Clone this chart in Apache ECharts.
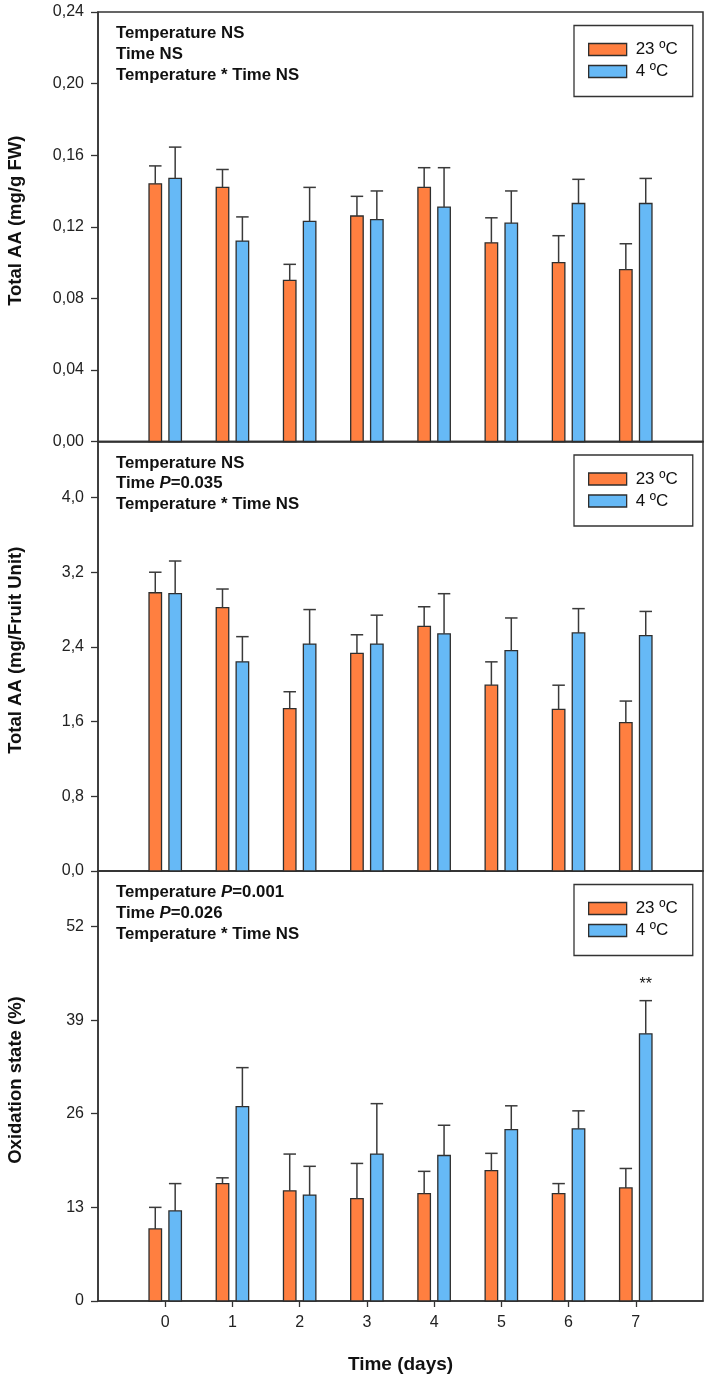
<!DOCTYPE html>
<html><head><meta charset="utf-8">
<script src="https://cdn.jsdelivr.net/npm/echarts@6/dist/echarts.min.js"></script>
<style>html,body{margin:0;padding:0;background:#fff}#c{width:708px;height:1382px}</style>
</head><body><div id="c"></div>
<script>
// ---- data ----
const days = [0, 1, 2, 3, 4, 5, 6, 7];
const seriesNames = ['23 ºC', '4 ºC'];

// Panel 1: Total AA (mg/g FW)
const aaFw23   = [0.144, 0.142, 0.090, 0.126, 0.142, 0.111, 0.100, 0.096];
const aaFw23Se = [0.010, 0.010, 0.009, 0.011, 0.011, 0.014, 0.015, 0.0145];
const aaFw4    = [0.147, 0.112, 0.123, 0.124, 0.131, 0.122, 0.133, 0.133];
const aaFw4Se  = [0.0175, 0.0135, 0.019, 0.016, 0.022, 0.018, 0.0135, 0.014];

// Panel 2: Total AA (mg/Fruit Unit)
const aaFu23   = [2.98, 2.82, 1.74, 2.33, 2.62, 1.99, 1.73, 1.59];
const aaFu23Se = [0.22, 0.20, 0.18, 0.20, 0.21, 0.25, 0.26, 0.23];
const aaFu4    = [2.97, 2.24, 2.43, 2.43, 2.54, 2.36, 2.55, 2.52];
const aaFu4Se  = [0.35, 0.27, 0.37, 0.31, 0.43, 0.35, 0.26, 0.26];

// Panel 3: Oxidation state (%)
const ox23   = [10.0, 16.3, 15.3, 14.2, 14.9, 18.1, 14.9, 15.7];
const ox23Se = [3.0, 0.8, 5.1, 4.9, 3.1, 2.4, 1.4, 2.7];
const ox4    = [12.5, 27.0, 14.7, 20.4, 20.2, 23.8, 23.9, 37.1];
const ox4Se  = [3.8, 5.4, 4.0, 7.0, 4.2, 3.3, 2.5, 4.6];
const ox4Sig = ['', '', '', '', '', '', '', '**'];

// axes
const yTitles = ['Total AA (mg/g FW)', 'Total AA (mg/Fruit Unit)', 'Oxidation state (%)'];
const yMax = [0.24, 4.6, 59.7];
const yInterval = [0.04, 0.8, 13];
const yDecimals = [2, 1, 0];
const xTitle = 'Time (days)';

// statistics text per panel: [prefix, italic, suffix]
const stats = [
  [['Temperature NS', '', ''], ['Time NS', '', ''], ['Temperature * Time NS', '', '']],
  [['Temperature NS', '', ''], ['Time ', 'P', '=0.035'], ['Temperature * Time NS', '', '']],
  [['Temperature ', 'P', '=0.001'], ['Time ', 'P', '=0.026'], ['Temperature * Time NS', '', '']]
];

// ---- styling ----
const FONT = "'Liberation Sans', Arial, Helvetica, sans-serif";
const COLORS = ['#FF7F40', '#66B9F6'];
const EDGE = '#2e2e2e';
const gridTops = [12, 441.5, 871];
const gridH = [429.5, 429.5, 430];
const GL = 98, GR = 5;
const OFF = 0.148, BW = 0.186;

function fmt(d) { return v => v.toFixed(d).replace('.', ','); }

function makeRender(side, color, marks) {
  return function (params, api) {
    const x = api.value(0), v = api.value(1), se = api.value(2);
    const unit = api.size([1, 0])[0];
    const p0 = api.coord([x, 0]);
    const cx = p0[0] + side * OFF * unit;
    const base = p0[1];
    const top = api.coord([x, v])[1];
    const eTop = api.coord([x, v + se])[1];
    const w = BW * unit;
    const ch = [
      { type: 'rect', shape: { x: cx - w / 2, y: top, width: w, height: base - top },
        style: { fill: color, stroke: EDGE, lineWidth: 1.3 } },
      { type: 'line', shape: { x1: cx, y1: top, x2: cx, y2: eTop }, style: { stroke: '#3a3a3a', lineWidth: 1.5 } },
      { type: 'line', shape: { x1: cx - w / 2, y1: eTop, x2: cx + w / 2, y2: eTop }, style: { stroke: '#3a3a3a', lineWidth: 1.5 } }
    ];
    if (marks && marks[params.dataIndex]) {
      ch.push({ type: 'text', x: cx, y: eTop - 16,
        style: { text: marks[params.dataIndex], fill: '#111', font: '16px ' + FONT, align: 'center', verticalAlign: 'middle' } });
    }
    return { type: 'group', children: ch };
  };
}

const panels = [
  [aaFw23, aaFw23Se, aaFw4, aaFw4Se, null],
  [aaFu23, aaFu23Se, aaFu4, aaFu4Se, null],
  [ox23, ox23Se, ox4, ox4Se, ox4Sig]
];

const grid = [], xAxis = [], yAxis = [], series = [], legend = [], graphic = [];
panels.forEach((p, i) => {
  grid.push({ left: GL, right: GR, top: gridTops[i], height: gridH[i], show: true,
    borderColor: '#333', borderWidth: 1.5, backgroundColor: 'transparent' });
  const last = i === 2;
  xAxis.push({ type: 'value', gridIndex: i, min: -1, max: 8, interval: 1,
    splitLine: { show: false },
    axisLine: { show: true, onZero: false, lineStyle: { color: '#333', width: 1.5 } },
    axisTick: { show: last, length: 6, lineStyle: { color: '#333', width: 1.3 }, customValues: days },
    axisLabel: { show: last, customValues: days, margin: 14, fontSize: 16, color: '#222', fontFamily: FONT },
    name: last ? xTitle : '', nameLocation: 'middle', nameGap: 54,
    nameTextStyle: { fontSize: 19, fontWeight: 'bold', color: '#111', fontFamily: FONT }
  });
  yAxis.push({ type: 'value', gridIndex: i, min: 0, max: yMax[i], interval: yInterval[i],
    splitLine: { show: false },
    axisLine: { show: true, onZero: false, lineStyle: { color: '#333', width: 1.5 } },
    axisTick: { show: true, length: 7, lineStyle: { color: '#333', width: 1.3 } },
    axisLabel: { formatter: fmt(yDecimals[i]), margin: 14, fontSize: 16, color: '#222', fontFamily: FONT,
      showMaxLabel: i === 0, showMinLabel: true }
  });
  const [m23, s23, m4, s4, sig] = p;
  series.push({ type: 'custom', name: seriesNames[0], xAxisIndex: i, yAxisIndex: i,
    itemStyle: { color: COLORS[0], borderColor: EDGE, borderWidth: 1.3 },
    renderItem: makeRender(-1, COLORS[0], null),
    data: days.map((d, k) => [d, m23[k], s23[k]]) });
  series.push({ type: 'custom', name: seriesNames[1], xAxisIndex: i, yAxisIndex: i,
    itemStyle: { color: COLORS[1], borderColor: EDGE, borderWidth: 1.3 },
    renderItem: makeRender(1, COLORS[1], sig),
    data: days.map((d, k) => [d, m4[k], s4[k]]) });
  legend.push({ orient: 'vertical', left: 574, top: gridTops[i] + 13.5,
    padding: [15, 15, 16, 14], borderColor: '#333', borderWidth: 1.3,
    itemWidth: 38, itemHeight: 12, itemGap: 4, icon: 'rect',
    textStyle: { fontSize: 17, color: '#111', fontFamily: FONT, lineHeight: 18, padding: [0, 0, 0, 4] },
    data: seriesNames.map((n, k) => ({ name: n, itemStyle: { color: COLORS[k], borderColor: EDGE, borderWidth: 1.3 } })) });
  stats[i].forEach((ln, j) => {
    let txt = '{b|' + ln[0] + '}';
    if (ln[1]) txt += '{i|' + ln[1] + '}';
    if (ln[2]) txt += '{b|' + ln[2] + '}';
    graphic.push({ type: 'text', x: 116, y: gridTops[i] + 21.5 + j * 20.7,
      style: { text: txt, verticalAlign: 'middle',
        rich: { b: { fontSize: 16.8, fontWeight: 'bold', fill: '#111', fontFamily: FONT },
                i: { fontSize: 16.8, fontWeight: 'bold', fontStyle: 'italic', fill: '#111', fontFamily: FONT } } } });
  });
  graphic.push({ type: 'text', x: 16, y: gridTops[i] + gridH[i] / 2 - 6, rotation: Math.PI / 2,
    style: { text: yTitles[i], align: 'center', verticalAlign: 'middle', fill: '#111',
      font: 'bold 18.5px ' + FONT } });
});

const chart = echarts.init(document.getElementById('c'), null, { renderer: 'canvas' });
chart.setOption({ animation: false, backgroundColor: '#fff', grid, xAxis, yAxis, series, legend, graphic });
</script>
</body></html>
